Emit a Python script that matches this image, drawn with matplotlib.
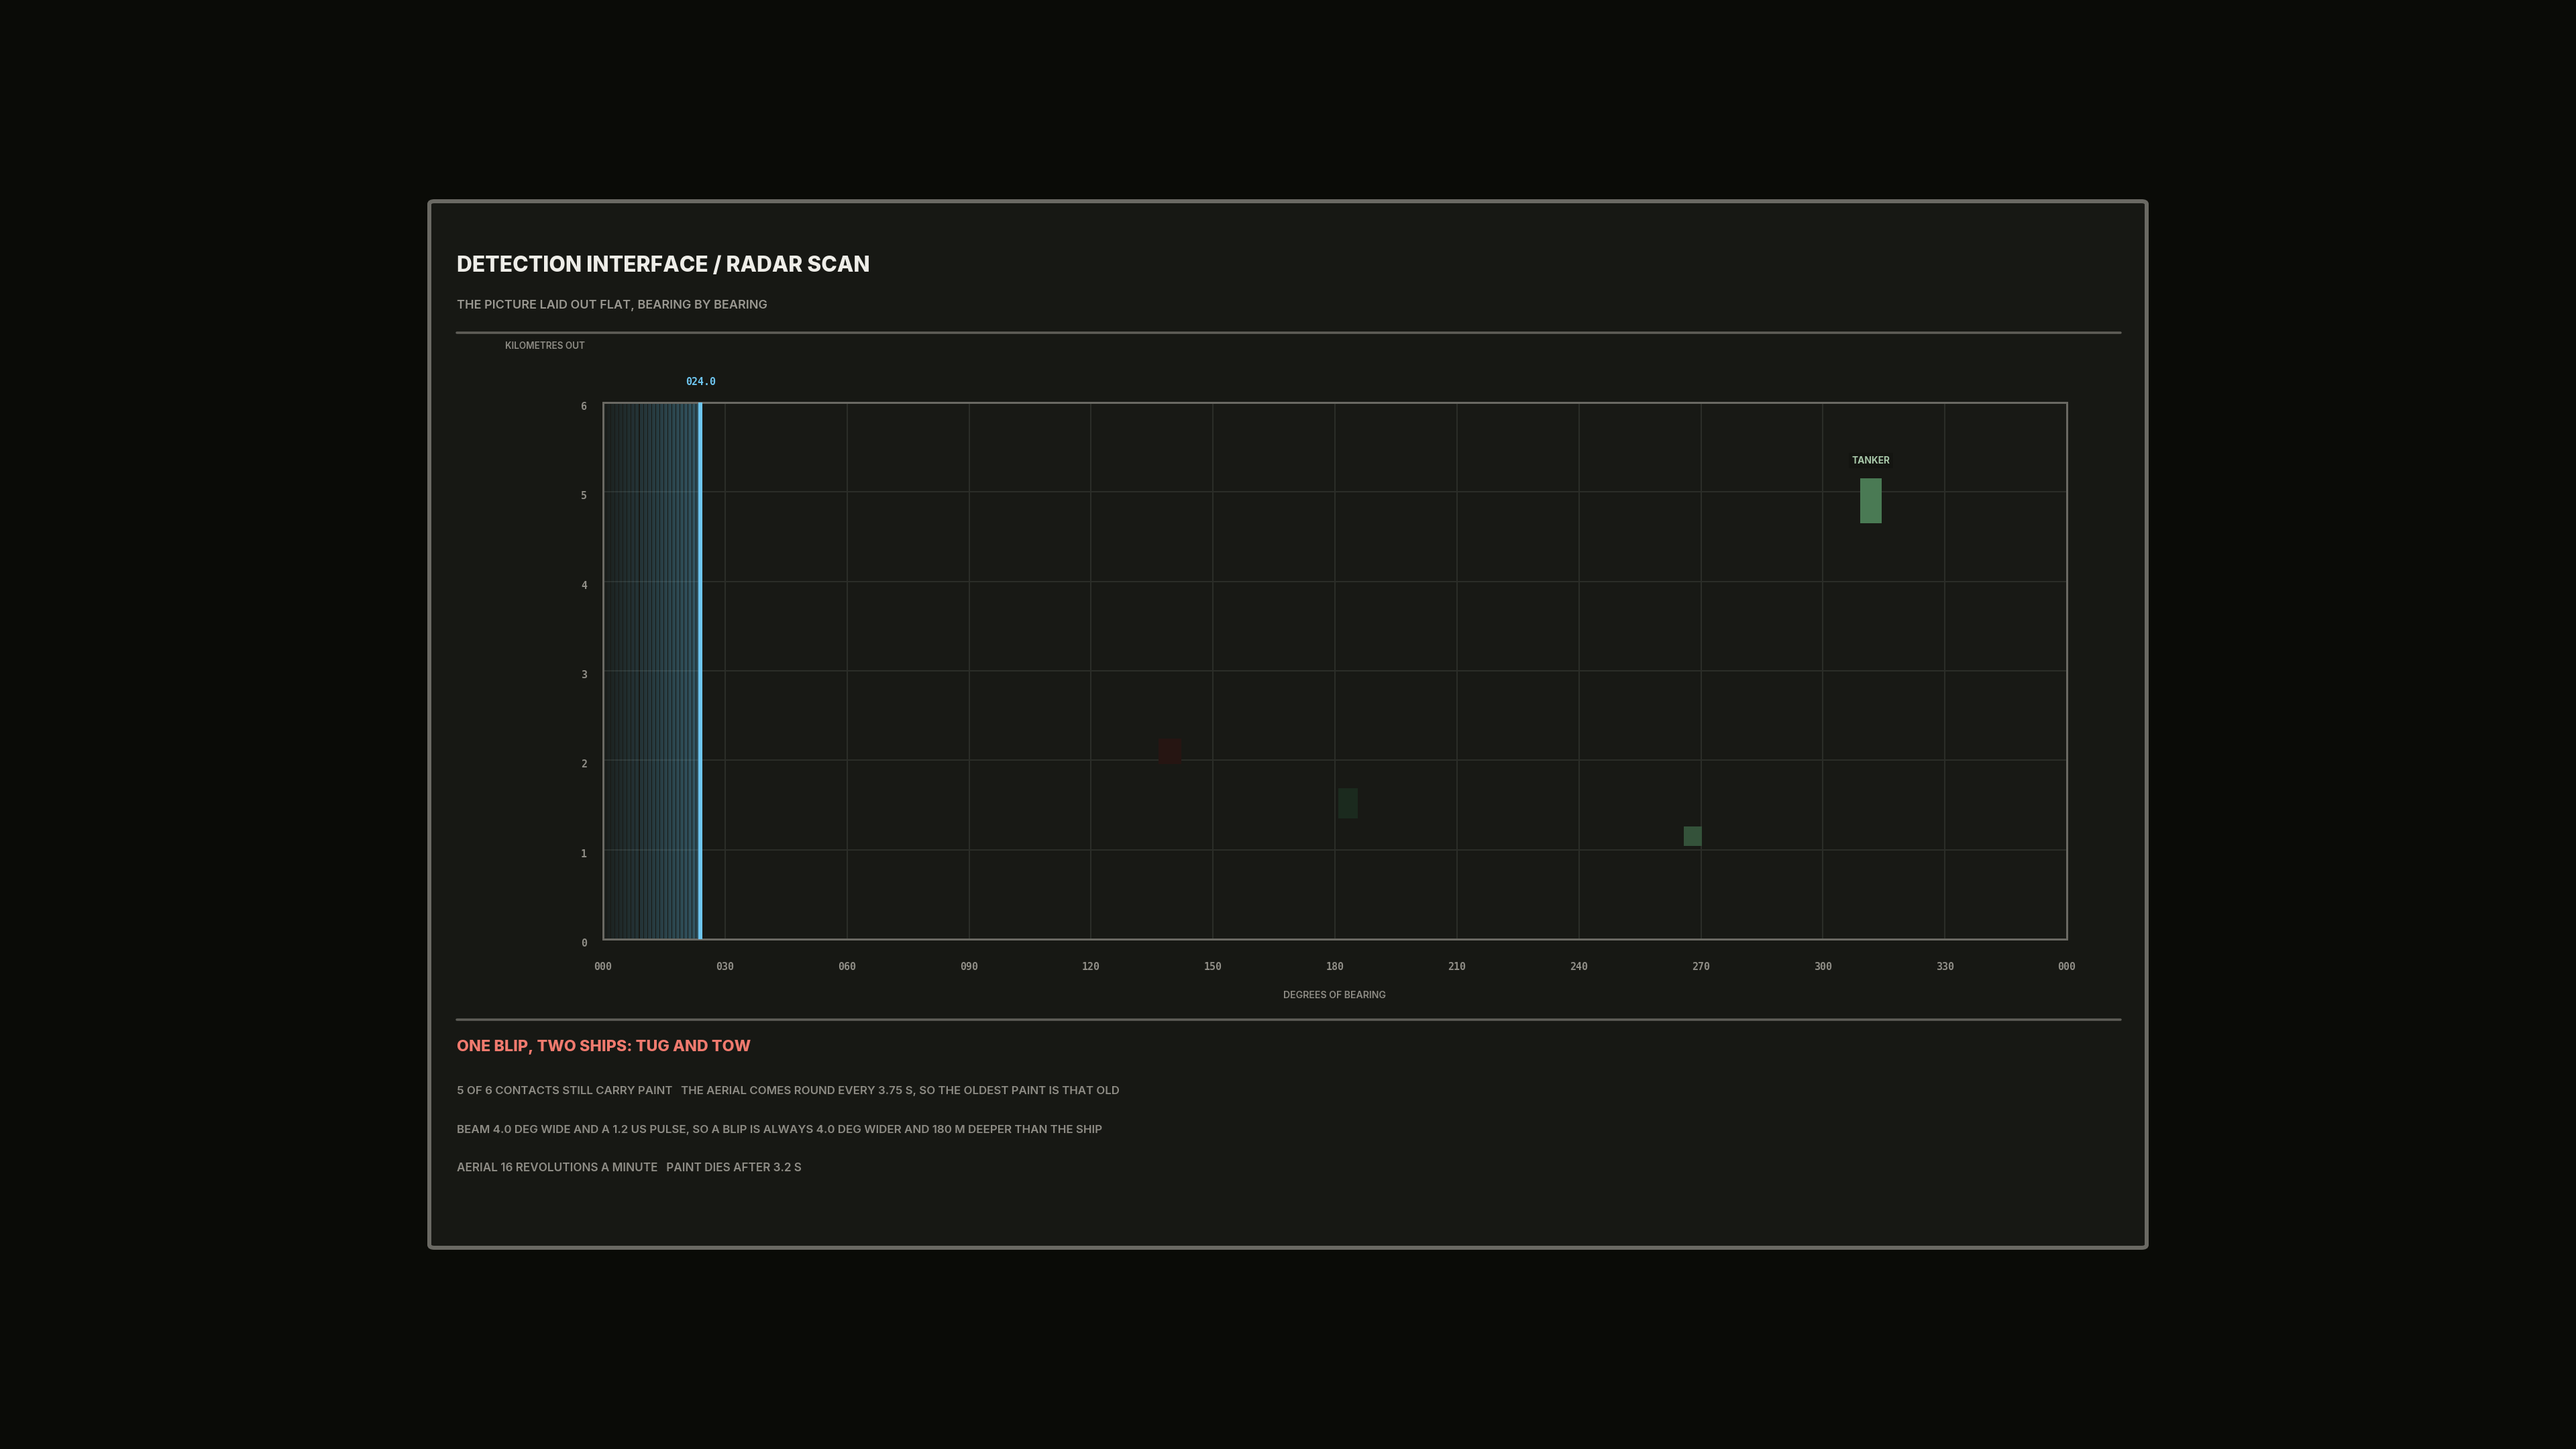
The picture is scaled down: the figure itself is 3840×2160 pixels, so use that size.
import matplotlib
matplotlib.use("Agg")
import matplotlib.pyplot as plt
from matplotlib import font_manager as fm
import matplotlib.patches as mpatches
import matplotlib.transforms as mtrans

W, H = 3840, 2160
DPI = 100
PT = 72.0 / DPI  # points per pixel

# ---------------- data ----------------
x_ticks = [0, 30, 60, 90, 120, 150, 180, 210, 240, 270, 300, 330, 360]
x_tick_labels = ["000", "030", "060", "090", "120", "150", "180", "210", "240", "270", "300", "330", "000"]
y_ticks = [0, 1, 2, 3, 4, 5, 6]
sweep_bearing = 24.0
trail_bearings = list(range(0, 24))  # one-degree strips painted behind the sweep

blip_bearing = [139.4, 183.2, 268.0, 311.8]
blip_width = [5.6, 4.8, 4.5, 5.3]
blip_range_near = [1.96, 1.35, 1.04, 4.65]
blip_depth = [0.28, 0.34, 0.22, 0.50]
blip_colors = ["#261512", "#1b2a1e", "#34523a", "#4a7a54"]
blip_labels = ["", "", "", "TANKER"]

title = "DETECTION INTERFACE / RADAR SCAN"
subtitle = "THE PICTURE LAID OUT FLAT, BEARING BY BEARING"
y_label = "KILOMETRES OUT"
x_label = "DEGREES OF BEARING"
footer_head = "ONE BLIP, TWO SHIPS: TUG AND TOW"
footer_lines = [
    "5 OF 6 CONTACTS STILL CARRY PAINT   THE AERIAL COMES ROUND EVERY 3.75 S, SO THE OLDEST PAINT IS THAT OLD",
    "BEAM 4.0 DEG WIDE AND A 1.2 US PULSE, SO A BLIP IS ALWAYS 4.0 DEG WIDER AND 180 M DEEPER THAN THE SHIP",
    "AERIAL 16 REVOLUTIONS A MINUTE   PAINT DIES AFTER 3.2 S",
]

# ---------------- fonts ----------------
names = {f.name for f in fm.fontManager.ttflist}
SANS = "Inter" if "Inter" in names else "DejaVu Sans"
MONO = "DejaVu Sans Mono"

BG = "#0a0b07"
PANEL = "#171814"
BORDER = "#6a6963"
MUTED = "#8f8d86"

fig = plt.figure(figsize=(W / DPI, H / DPI), dpi=DPI, facecolor=BG)
renderer = fig.canvas.get_renderer()


def fx(px):
    return px / W


def fy(py):
    return 1 - py / H


def fit(t, target_px):
    w = t.get_window_extent(renderer).width
    if w > 0:
        t.set_fontsize(t.get_fontsize() * target_px / w)
    return t


panel = mpatches.FancyBboxPatch((fx(640), fy(1860)), fx(3200) - fx(640), fy(300) - fy(1860),
                                boxstyle="round,pad=0,rounding_size=0.002",
                                transform=fig.transFigure, facecolor=PANEL,
                                edgecolor=BORDER, linewidth=6 * PT, zorder=-5)
fig.patches.append(panel)

t = fig.text(fx(681), fy(397), title, color="#eeede8", fontsize=20, fontweight=800,
             family=SANS, ha="left", va="center")
fit(t, 617)
t = fig.text(fx(681), fy(456), subtitle, color="#9a9891", fontsize=12, fontweight=600,
             family=SANS, ha="left", va="center")
fit(t, 463)

for yy in (496, 1520):
    fig.add_artist(plt.Line2D([fx(681), fx(3161)], [fy(yy), fy(yy)], transform=fig.transFigure,
                              color="#5f5e58", linewidth=3.5 * PT, solid_capstyle="round", zorder=-4))

t = fig.text(fx(753), fy(516), y_label, color=MUTED, fontsize=8, fontweight=600,
             family=SANS, ha="left", va="center")
fit(t, 120)

ax = fig.add_axes([fx(899), fy(1400), fx(3081) - fx(899), fy(600) - fy(1400)])
ax.set_facecolor("#181915")
ax.set_xlim(0, 360)
ax.set_ylim(0, 6)
ax.set_xticks(x_ticks)
ax.set_xticklabels(x_tick_labels)
ax.set_yticks(y_ticks)
ax.tick_params(length=0, colors=MUTED, labelsize=15 * PT)
ax.tick_params(axis="x", pad=34 * PT)
ax.tick_params(axis="y", pad=24 * PT)
shift_down = mtrans.ScaledTranslation(0, -5 / DPI, fig.dpi_scale_trans)
for lab in ax.get_xticklabels() + ax.get_yticklabels():
    lab.set_family(MONO)
    lab.set_fontweight("bold")
for lab in ax.get_yticklabels():
    lab.set_transform(lab.get_transform() + shift_down)
ax.grid(True, color="#2b2d28", linewidth=2 * PT, zorder=0)
ax.set_axisbelow(True)
for s in ax.spines.values():
    s.set_color(BORDER)
    s.set_linewidth(3 * PT)

# trail behind the sweep
n = len(trail_bearings)
trail_cols = [(0.36, 0.70, 0.85, 0.05 + 0.33 * i / (n - 1)) for i in range(n)]
ax.bar(trail_bearings, 6, width=0.82, align="edge", bottom=0, color=trail_cols, linewidth=0, zorder=1)

ax.axvline(sweep_bearing, color="#6ec6f0", linewidth=6 * PT, zorder=3)
ax.annotate(f"{sweep_bearing:05.1f}", xy=(sweep_bearing, 6), xytext=(0, 31 * PT), textcoords="offset points",
            ha="center", va="center", color="#6ec6f0", fontsize=15 * PT, fontweight="bold",
            family=MONO, annotation_clip=False)

ax.bar(blip_bearing, blip_depth, width=blip_width, bottom=blip_range_near, color=blip_colors,
       linewidth=0, zorder=2)
for b, r0, d, lab in zip(blip_bearing, blip_range_near, blip_depth, blip_labels):
    if lab:
        tt = ax.text(b, r0 + d + 0.2, lab, ha="center", va="center", color="#a8c8a9", fontsize=10,
                     fontweight="bold", family=SANS, zorder=4,
                     bbox=dict(boxstyle="square,pad=0.35", facecolor="#141511", edgecolor="none"))
        fit(tt, 57)

t = fig.text(fx(1990), fy(1484), x_label, color=MUTED, fontsize=8, fontweight=600,
             family=SANS, ha="center", va="center")
fit(t, 154)

t = fig.text(fx(681), fy(1561), footer_head, color="#f07a6e", fontsize=14, fontweight=800,
             family=SANS, ha="left", va="center")
fit(t, 438)
for yy, line, wpx in zip((1626, 1684, 1742), footer_lines, (987, 958, 512)):
    t = fig.text(fx(681), fy(yy), line, color=MUTED, fontsize=10, fontweight=600,
                 family=SANS, ha="left", va="center")
    fit(t, wpx)

fig.savefig("out.png", dpi=DPI, facecolor=BG)
